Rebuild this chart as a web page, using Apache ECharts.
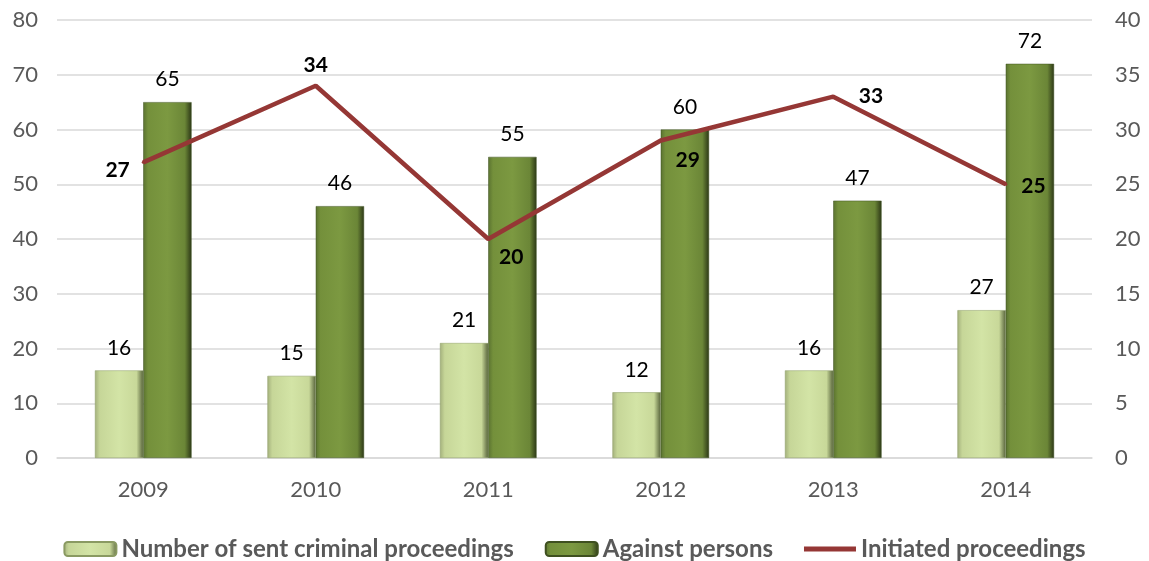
<!DOCTYPE html>
<html><head><meta charset="utf-8">
<script src="https://cdn.jsdelivr.net/npm/echarts@6/dist/echarts.min.js"></script>
<style>html,body{margin:0;padding:0;background:#fff}#c{width:1149px;height:561px}</style>
</head><body><div id="c"></div>
<script>
const years = ['2009','2010','2011','2012','2013','2014'];
const sentProceedings = [16, 15, 21, 12, 16, 27];
const againstPersons = [65, 46, 55, 60, 47, 72];
const initiatedProceedings = [27, 34, 20, 29, 33, 25];
const initiatedLabelPos = ['left','top','bottom','bottom','right','right'];

const FONT = 'Lato, "Open Sans", sans-serif';
const chart = echarts.init(document.getElementById('c'));
function hgrad(stops){return {type:'linear',x:0,y:0,x2:1,y2:0,colorStops:stops};}
const lightGrad = hgrad([{offset:0,color:'#a3b07c'},{offset:0.1,color:'#c6d698'},{offset:0.5,color:'#d3e4a6'},{offset:0.86,color:'#c8d899'},{offset:1,color:'#56623a'}]);
const darkGrad = hgrad([{offset:0,color:'#5a7230'},{offset:0.1,color:'#74903b'},{offset:0.5,color:'#7c9941'},{offset:0.86,color:'#6b8637'},{offset:1,color:'#2c3716'}]);

const labelDist = [12, 8, 6, 8, 24, 14];
const labelOffset = [[0,8],[0,0],[23,0],[27,0],[0,0],[0,2]];

chart.setOption({
  animation:false,
  grid:{left:57,right:57,top:20,bottom:103},
  legend:{bottom:-5,left:'center',itemWidth:52,itemHeight:14,itemGap:31,
    textStyle:{fontFamily:FONT,fontSize:24,fontWeight:'bold',color:'#595959'},
    data:[{name:'Number of sent criminal proceedings'},{name:'Against persons'},{name:'Initiated proceedings',icon:'path://M0,0 L52,0 L52,5 L0,5 Z',itemStyle:{color:'#953735',opacity:1}}]},
  xAxis:{type:'category',data:years,
    axisLine:{lineStyle:{color:'#d9d9d9',width:1.5}},axisTick:{show:false},
    axisLabel:{fontFamily:FONT,fontSize:22,color:'#595959',margin:21}},
  yAxis:[
    {type:'value',min:0,max:80,interval:10,
     axisLabel:{fontFamily:FONT,fontSize:22,color:'#595959',margin:19},
     splitLine:{lineStyle:{color:'#d9d9d9',width:1.5}},axisLine:{show:false}},
    {type:'value',min:0,max:40,interval:5,position:'right',
     axisLabel:{fontFamily:FONT,fontSize:22,color:'#595959',margin:23},
     splitLine:{show:false},axisLine:{show:false}}
  ],
  series:[
    {name:'Number of sent criminal proceedings',type:'bar',data:sentProceedings,
     barWidth:'28%',barGap:'0%',itemStyle:{color:lightGrad,borderColor:'#8a9a62',borderWidth:0.5},
     label:{show:true,position:'top',distance:12,fontFamily:FONT,fontSize:21,color:'#000'}},
    {name:'Against persons',type:'bar',data:againstPersons,
     barWidth:'28%',barGap:'0%',itemStyle:{color:darkGrad,borderColor:'#3f5020',borderWidth:0.5},
     label:{show:true,position:'top',distance:12,fontFamily:FONT,fontSize:21,color:'#000'}},
    {name:'Initiated proceedings',type:'line',yAxisIndex:1,
     data:initiatedProceedings.map((v,i)=>({value:v,label:{position:initiatedLabelPos[i],distance:labelDist[i],offset:labelOffset[i]}})),
     symbol:'circle',symbolSize:3,showSymbol:true,
     lineStyle:{color:'#953735',width:4.5},itemStyle:{color:'#953735'},z:5,
     label:{show:true,opacity:1,fontFamily:FONT,fontSize:21,fontWeight:'bold',color:'#000'}}
  ]
});
</script></body></html>
